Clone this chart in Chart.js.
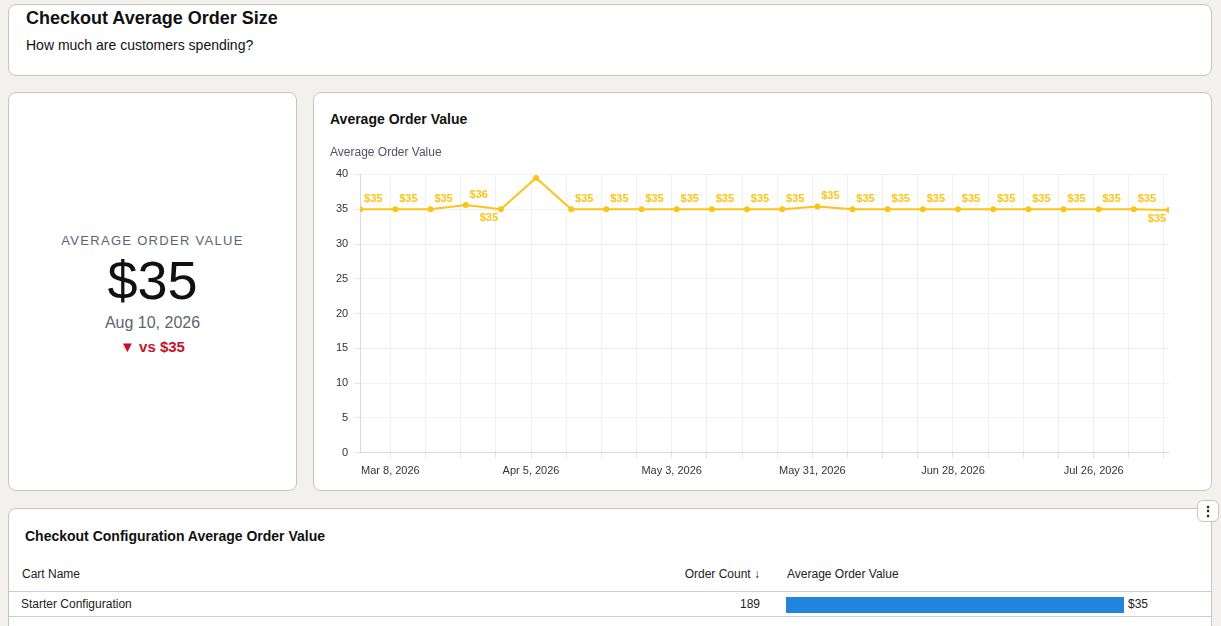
<!DOCTYPE html>
<html>
<head>
<meta charset="utf-8">
<title>Checkout Average Order Size</title>
<script src="https://cdn.jsdelivr.net/npm/chart.js@4.4.1/dist/chart.umd.min.js"></script>
<style>
  body {
    margin: 0;
    background: #f2f1ee;
    font-family: "Liberation Sans", Arial, Helvetica, sans-serif;
    color: #111;
    width: 1221px;
    height: 626px;
    overflow: hidden;
    position: relative;
  }
  .card {
    position: absolute;
    background: #fff;
    border: 1px solid #c9c5bd;
    border-radius: 8px;
    box-sizing: border-box;
  }
  #header { left: 8px; top: 4px; width: 1204px; height: 72px; }
  #header h1 { position: absolute; left: 17px; top: 3px; margin: 0; font-size: 18px; font-weight: bold; }
  #header p { position: absolute; left: 17px; top: 32px; margin: 0; font-size: 14px; }
  #kpi { left: 8px; top: 92px; width: 289px; height: 399px; text-align: center; }
  #kpiLabel { position: absolute; left: 0; right: 0; top: 140px; font-size: 13px; letter-spacing: 1.3px; color: #5d646e; }
  #kpiValue { position: absolute; left: 0; right: 0; top: 156px; font-size: 54px; color: #111; }
  #kpiDate { position: absolute; left: 0; right: 0; top: 221px; font-size: 16px; color: #5d646e; }
  #kpiDelta { position: absolute; left: 0; right: 0; top: 245px; font-size: 15px; font-weight: bold; color: #c8102e; }
  #chartCard { left: 313px; top: 92px; width: 899px; height: 399px; }
  #chartCard h2 { position: absolute; left: 16px; top: 18px; margin: 0; font-size: 14px; font-weight: bold; }
  #chartBox { position: absolute; left: 16px; top: 48px; width: 866px; height: 343px; }
  #tableCard { left: 8px; top: 508px; width: 1204px; height: 140px; }
  #tableCard h2 { position: absolute; left: 16px; top: 19px; margin: 0; font-size: 14px; font-weight: bold; }
  .th, .td { position: absolute; font-size: 12px; color: #222; }
  .line { position: absolute; left: 0; right: 0; height: 1px; background: #c3ccd8; }
  #barBox { position: absolute; left: 777px; top: 88px; width: 338px; height: 16px; }
  #menu {
    position: absolute; left: 1197px; top: 500px; width: 22px; height: 22px;
    background: #fff; border: 1px solid #c9c5bd; border-radius: 6px; box-sizing: border-box;
    text-align: center; font-size: 14px; font-weight: bold; line-height: 20px;
  }
</style>
</head>
<body>

<div class="card" id="header">
  <h1>Checkout Average Order Size</h1>
  <p>How much are customers spending?</p>
</div>

<div class="card" id="kpi">
  <div id="kpiLabel">AVERAGE ORDER VALUE</div>
  <div id="kpiValue"></div>
  <div id="kpiDate"></div>
  <div id="kpiDelta"></div>
</div>

<div class="card" id="chartCard">
  <h2>Average Order Value</h2>
  <div id="chartBox"><canvas id="aovChart"></canvas></div>
</div>

<div class="card" id="tableCard">
  <h2>Checkout Configuration Average Order Value</h2>
  <div class="th" style="left:13px; top:58px;">Cart Name</div>
  <div class="th" style="right:451px; top:58px;">Order Count &#8595;</div>
  <div class="th" style="left:778px; top:58px;">Average Order Value</div>
  <div class="line" style="top:82px;"></div>
  <div class="td" id="cartName" style="left:12px; top:88px;"></div>
  <div class="td" id="cartCount" style="right:451px; top:88px;"></div>
  <div id="barBox"><canvas id="barChart"></canvas></div>
  <div class="td" id="cartAov" style="left:1119px; top:88px;"></div>
  <div class="line" style="top:107px;"></div>
</div>
<div id="menu">&#8942;</div>

<script>
// Weekly data (week starting Monday)
const weeks = [
  '2026-03-02', '2026-03-09', '2026-03-16', '2026-03-23', '2026-03-30', '2026-04-06',
  '2026-04-13', '2026-04-20', '2026-04-27', '2026-05-04', '2026-05-11', '2026-05-18',
  '2026-05-25', '2026-06-01', '2026-06-08', '2026-06-15', '2026-06-22', '2026-06-29',
  '2026-07-06', '2026-07-13', '2026-07-20', '2026-07-27', '2026-08-03', '2026-08-10'
];
const avgOrderValue = [
  35, 35, 35, 35.6, 35, 39.5,
  35, 35, 35, 35, 35, 35,
  35, 35.4, 35, 35, 35, 35,
  35, 35, 35, 35, 35, 34.9
];

// x axis ticks: weekly gridlines, a label every 4 weeks
const firstTick = '2026-03-08';
const lastTick = '2026-08-09';
const tickLabels = ['Mar 8, 2026', 'Apr 5, 2026', 'May 3, 2026', 'May 31, 2026', 'Jun 28, 2026', 'Jul 26, 2026'];
const yTicks = [0, 5, 10, 15, 20, 25, 30, 35, 40];

// Table
const cartNames = ['Starter Configuration'];
const orderCounts = [189];
const cartAovs = [35];

const DAY = 86400000;
const dayNum = s => Date.parse(s + 'T00:00:00Z') / DAY;
const fmtDate = s => new Date(s + 'T00:00:00Z').toLocaleDateString('en-US', {
  month: 'short', day: 'numeric', year: 'numeric', timeZone: 'UTC'
});

const yellow = '#fcc419';

// KPI card
const last = avgOrderValue.length - 1;
document.getElementById('kpiValue').textContent = '$' + Math.round(avgOrderValue[last]);
document.getElementById('kpiDate').textContent = fmtDate(weeks[last]);
const arrow = avgOrderValue[last] < avgOrderValue[last - 1] ? '\u25BC' : '\u25B2';
document.getElementById('kpiDelta').textContent = arrow + ' vs $' + Math.round(avgOrderValue[last - 1]);

// Point labels: above-right, below-left for dips and at the right edge
const pointLabels = {
  id: 'pointLabels',
  afterDatasetsDraw(chart) {
    const ctx = chart.ctx;
    const area = chart.chartArea;
    const pts = chart.getDatasetMeta(0).data;
    const vals = chart.data.datasets[0].data.map(d => d.y);
    ctx.save();
    ctx.font = 'bold 11px "Liberation Sans", Arial, sans-serif';
    ctx.fillStyle = yellow;
    ctx.textAlign = 'center';
    ctx.textBaseline = 'middle';
    pts.forEach((p, i) => {
      const text = '$' + Math.round(vals[i]);
      const w = ctx.measureText(text).width;
      const dip = i > 0 && i < vals.length - 1 && vals[i] < vals[i - 1] && vals[i] < vals[i + 1];
      const offEdge = p.x + 13 + w / 2 > area.right;
      let x = p.x + 13, y = p.y - 10;
      if (dip || offEdge) { x = p.x - 12; y = p.y + 9; }
      if (y - 6 < area.top) return;
      ctx.fillText(text, x, y);
    });
    ctx.restore();
  }
};

const ctx = document.getElementById('aovChart').getContext('2d');
new Chart(ctx, {
  type: 'line',
  data: {
    datasets: [{
      label: 'Average Order Value',
      data: weeks.map((w, i) => ({ x: dayNum(w), y: avgOrderValue[i] })),
      borderColor: yellow,
      backgroundColor: yellow,
      borderWidth: 2,
      pointRadius: 3,
      pointBackgroundColor: yellow,
      pointBorderWidth: 0,
      tension: 0
    }]
  },
  options: {
    responsive: true,
    maintainAspectRatio: false,
    animation: false,
    layout: { padding: { top: 0, right: 27, bottom: 0, left: 0 } },
    plugins: {
      legend: { display: false },
      tooltip: { enabled: false },
      title: {
        display: true,
        text: 'Average Order Value',
        align: 'start',
        color: '#4b5563',
        font: { size: 12, weight: 'normal', family: '"Liberation Sans", Arial, sans-serif' },
        padding: { top: 4, bottom: 15 }
      }
    },
    scales: {
      x: {
        type: 'linear',
        min: dayNum(weeks[0]),
        max: dayNum(weeks[last]),
        afterBuildTicks: axis => {
          const ticks = [];
          for (let d = dayNum(firstTick); d <= dayNum(lastTick); d += 7) ticks.push({ value: d });
          axis.ticks = ticks;
        },
        ticks: {
          autoSkip: false,
          maxRotation: 0,
          padding: 6,
          color: '#333',
          font: { size: 11, family: '"Liberation Sans", Arial, sans-serif' },
          callback: (v, i) => (i % 4 === 0 ? tickLabels[i / 4] : '')
        },
        grid: { color: '#eef0f4', tickLength: 6, tickColor: '#e3e6ec' },
        border: { color: '#d6dbe3' }
      },
      y: {
        min: 0,
        max: 40,
        afterBuildTicks: axis => { axis.ticks = yTicks.map(v => ({ value: v })); },
        ticks: {
          color: '#333',
          padding: 6,
          font: { size: 11, family: '"Liberation Sans", Arial, sans-serif' }
        },
        grid: { color: '#eef0f4', tickLength: 6, tickColor: '#e3e6ec' },
        border: { color: '#d6dbe3' }
      }
    }
  },
  plugins: [pointLabels]
});

// Table row
document.getElementById('cartName').textContent = cartNames[0];
document.getElementById('cartCount').textContent = orderCounts[0];
document.getElementById('cartAov').textContent = '$' + cartAovs[0];

new Chart(document.getElementById('barChart').getContext('2d'), {
  type: 'bar',
  data: {
    labels: cartNames,
    datasets: [{ data: cartAovs, backgroundColor: '#2185de', barPercentage: 1, categoryPercentage: 1 }]
  },
  options: {
    indexAxis: 'y',
    responsive: true,
    maintainAspectRatio: false,
    animation: false,
    plugins: { legend: { display: false }, tooltip: { enabled: false } },
    scales: {
      x: { display: false, min: 0, max: Math.max(...cartAovs) },
      y: { display: false }
    }
  }
});
</script>
</body>
</html>
